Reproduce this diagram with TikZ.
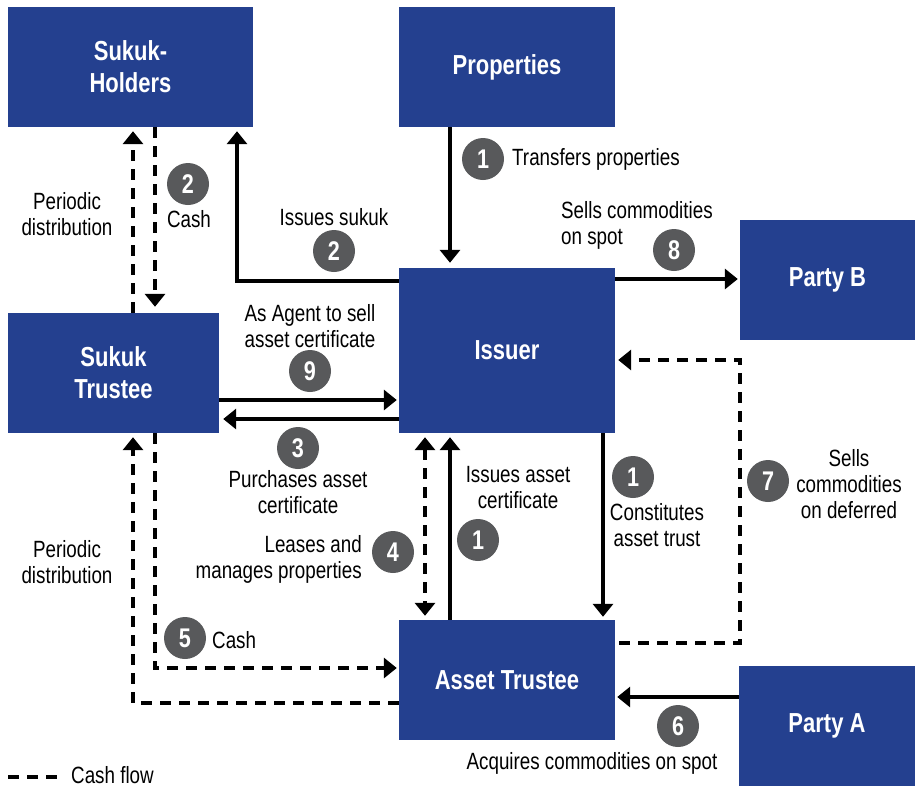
\documentclass[tikz,border=0pt]{standalone}
\usepackage{fontspec}
\setmainfont{Liberation Sans}[FakeStretch=0.8]
\usetikzlibrary{arrows.meta}
\definecolor{boxblue}{HTML}{24408F}
\definecolor{badgegray}{HTML}{58595B}
\begin{document}
\begin{tikzpicture}[x=1pt,y=-1pt,
  box/.style={rectangle, fill=boxblue, text=white, align=center, inner sep=0pt,
    font=\bfseries\fontsize{27.5}{32}\selectfont},
  badge/.style={circle, fill=badgegray, text=white, minimum size=42pt, inner sep=0pt,
    font=\bfseries\fontsize{27}{27}\selectfont},
  lbl/.style={inner sep=0pt, font=\fontsize{23.5}{26}\selectfont},
  flow/.style={line width=3.5pt, -{Triangle[width=20pt,length=13pt]}, shorten >=4pt},
  cash/.style={flow, dash pattern=on 11pt off 8pt},
]
\useasboundingbox (0,0) rectangle (915,788);

% parties and trustees
\node[box, minimum width=245pt, minimum height=120pt] (holders) at (130.5,67) {Sukuk-\\Holders};
\node[box, minimum width=216pt, minimum height=120pt] (props) at (507,67) {Properties};
\node[box, minimum width=175pt, minimum height=120pt] (partyb) at (827.5,280) {Party B};
\node[box, minimum width=216pt, minimum height=165pt] (issuer) at (507,350.5) {Issuer};
\node[box, minimum width=211pt, minimum height=120pt] (strustee) at (113.5,373) {Sukuk\\Trustee};
\node[box, minimum width=216pt, minimum height=120pt] (atrustee) at (507,680) {Asset Trustee};
\node[box, minimum width=176pt, minimum height=120pt] (partya) at (827,726) {Party A};

% guide lines for the connectors
\coordinate (xPD) at (133,0);
\coordinate (xCash) at (155,0);
\coordinate (xSuk) at (237,0);
\coordinate (xLease) at (425,0);
\coordinate (xCert) at (450,0);
\coordinate (xTrust) at (603,0);
\coordinate (xDef) at (740,0);
\coordinate (ySuk) at (0,281);
\coordinate (ySpot) at (0,279);
\coordinate (yAgent) at (0,400);
\coordinate (yBuy) at (0,419);
\coordinate (yDefTop) at (0,360);
\coordinate (yDefBot) at (0,643);
\coordinate (yCash) at (0,668);
\coordinate (yPD) at (0,703);
\coordinate (yAcq) at (0,697);

% connectors
\draw[cash] (xPD |- strustee.north) -- (xPD |- holders.south);
\draw[cash, shorten >=6pt] (xCash |- holders.south) -- (xCash |- strustee.north);
\draw[flow] (issuer.west |- ySuk) -| (xSuk |- holders.south);
\draw[flow, shorten >=5pt] (xCert |- props.south) -- (xCert |- issuer.north);
\draw[flow, shorten >=2pt] (issuer.east |- ySpot) -- (partyb.west |- ySpot);
\draw[flow, shorten >=2pt] (strustee.east |- yAgent) -- (issuer.west |- yAgent);
\draw[flow] (issuer.west |- yBuy) -- (strustee.east |- yBuy);
\draw[cash, shorten <=4pt, shorten >=3pt] (atrustee.east |- yDefBot) -| (xDef |- yDefTop) -- (issuer.east |- yDefTop);
\draw[cash] (atrustee.west |- yPD) -| (xPD |- strustee.south);
\draw[cash, shorten >=2pt] (xCash |- strustee.south) |- (atrustee.west |- yCash);
\draw[cash, {Triangle[width=20pt,length=13pt]}-{Triangle[width=20pt,length=13pt]}, shorten <=4pt] (xLease |- issuer.south) -- (xLease |- atrustee.north);
\draw[flow] (xCert |- atrustee.north) -- (xCert |- issuer.south);
\draw[flow, shorten >=3pt] (xTrust |- issuer.south) -- (xTrust |- atrustee.north);
\draw[flow, shorten >=2pt] (partya.west |- yAcq) -- (atrustee.east |- yAcq);

% step numbers
\node[badge] (b2cash) at (188,184) {2};
\node[badge] (b2sukuk) at (334,251) {2};
\node[badge] (b1props) at (483,159) {1};
\node[badge] (b8) at (674,250) {8};
\node[badge] (b9) at (310,371) {9};
\node[badge] (b3) at (298,448) {3};
\node[badge] (b4) at (393,552) {4};
\node[badge] (b1cert) at (478,540) {1};
\node[badge] (b1trust) at (633,477) {1};
\node[badge] (b7) at (768,481) {7};
\node[badge] (b5) at (185,638) {5};
\node[badge] (b6) at (678,726) {6};

% labels
\node[lbl, anchor=base west] (tProps) at (512,165) {Transfers properties};
\node[lbl, align=center] (tPD1) at (67,214) {Periodic\\distribution};
\node[lbl, anchor=base] (tCash1) at (189,227) {Cash};
\node[lbl, anchor=base] (tSuk) at (334,225) {Issues sukuk};
\node[lbl, align=left, anchor=west] (tSpot) at (561,225) {Sells commodities\\on spot};
\node[lbl, align=center] (tAgent) at (310,326) {As Agent to sell\\asset certificate};
\node[lbl, align=center] (tBuy) at (298,492) {Purchases asset\\certificate};
\node[lbl, align=right, anchor=east] (tLease) at (362,559) {Leases and\\manages properties};
\node[lbl, align=center] (tCert) at (518,488) {Issues asset\\certificate};
\node[lbl, align=center] (tTrust) at (657,525) {Constitutes\\asset trust};
\node[lbl, align=center] (tDef) at (849,484) {Sells\\commodities\\on deferred};
\node[lbl, align=center] (tPD2) at (67,562) {Periodic\\distribution};
\node[lbl, anchor=base west] (tCash2) at (212,648) {Cash};
\node[lbl, anchor=base] (tAcq) at (592,769) {Acquires commodities on spot};

% legend
\coordinate (legA) at (8,777);
\coordinate (legB) at (62,777);
\draw[line width=3.5pt, dash pattern=on 11pt off 8pt] (legA) -- (legB);
\node[lbl, anchor=base west] (tLegend) at (71,783) {Cash flow};
\end{tikzpicture}
\end{document}
